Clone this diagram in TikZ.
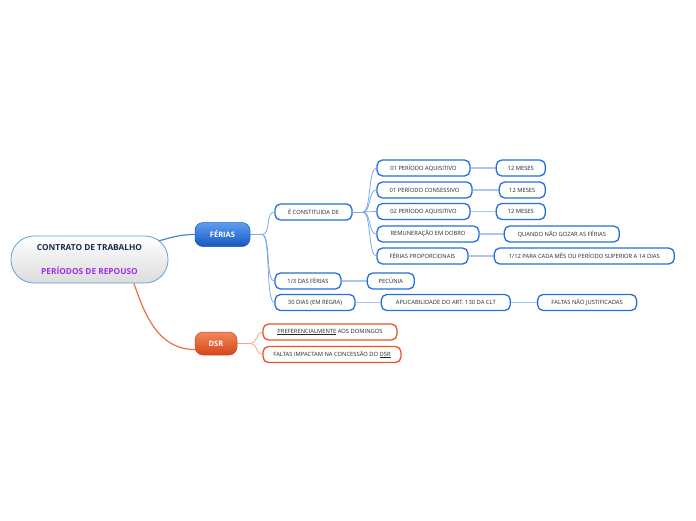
\documentclass[tikz,border=0pt]{standalone}
\usepackage{fontspec}
\setmainfont{Open Sans}
\usepackage{tikz}
\usetikzlibrary{positioning,backgrounds}
\definecolor{cBlue}{HTML}{2470D8}
\definecolor{cBlueTop}{HTML}{5E9EF0}
\definecolor{cBlueBot}{HTML}{1656BF}
\definecolor{cOrange}{HTML}{E8532B}
\definecolor{cOrangeTop}{HTML}{F3865A}
\definecolor{cOrangeBot}{HTML}{D5461C}
\definecolor{cTwig}{HTML}{7AA9EA}
\definecolor{cLink}{HTML}{A9C8F0}
\definecolor{cTwigO}{HTML}{F5A488}
\definecolor{cRootLine}{HTML}{5BA3E2}
\definecolor{cNavy}{HTML}{1C2B4F}
\definecolor{cPurple}{HTML}{A32CF2}
\definecolor{cText}{HTML}{262626}
\tikzset{
  root/.style={rounded corners=23pt, draw=cRootLine, line width=0.8pt, top color=white, bottom color=black!14,
               text=cNavy, align=center, font=\fontsize{8.3}{10}\selectfont\bfseries,
               minimum width=157pt, minimum height=47pt},
  hub/.style={rounded corners=8pt, top color=#1Top, bottom color=#1Bot, draw=#1Bot, line width=0.5pt,
              text=white, font=\fontsize{7.5}{9}\selectfont\bfseries, minimum height=24pt},
  leaf/.style={rounded corners=5.5pt, draw=#1, line width=1.3pt, fill=white, text=cText,
               font=\fontsize{5.8}{6.5}\selectfont, minimum height=16pt, inner xsep=2pt},
  limb/.style={draw=#1, line width=1.2pt},
  twig/.style={draw=#1, line width=0.8pt},
  link/.style={draw=cLink, line width=1.6pt},
}

\begin{document}
\begin{tikzpicture}[x=1pt, y=-1pt]
  \useasboundingbox (0,0) rectangle (696,520);
  % centre and the two main topics
  \node[root] (c) at (89.5,259.5) {CONTRATO DE TRABALHO\\[14pt]\textcolor{cPurple}{PERÍODOS DE REPOUSO}};
  \node[hub=cBlue, minimum width=55pt] (ferias) at (222.5,234.5) {FÉRIAS};
  \node[hub=cOrange, minimum width=42pt, minimum height=23pt] (dsr) at (216,343.5) {DSR};
  % ferias --- second level
  \node[leaf=cBlue, minimum width=77pt] (const) at (313.5,212) {É CONSTITUIDA DE};
  \node[leaf=cBlue, minimum width=66pt] (terco) at (308,281) {1/3 DAS FÉRIAS};
  \node[leaf=cBlue, minimum width=80pt] (trinta) at (315,302.5) {30 DIAS (EM REGRA)};
  % what the vacation is made of
  \node[leaf=cBlue, minimum width=93pt] (paq1) at (423.5,168) {01 PERÍODO AQUISITIVO};
  \node[leaf=cBlue, minimum width=95pt] (pcon) at (424.5,190) {01 PERÍODO CONSESSIVO};
  \node[leaf=cBlue, minimum width=93pt] (paq2) at (423.5,211.5) {02 PERÍODO AQUISITIVO};
  \node[leaf=cBlue, minimum width=102pt] (remu) at (428,234) {REMUNERAÇÃO EM DOBRO};
  \node[leaf=cBlue, minimum width=91pt] (fprop) at (422.5,256) {FÉRIAS PROPORCIONAIS};
  \node[leaf=cBlue, minimum width=49pt, right=25pt of paq1] (mes1) {12 MESES};
  \node[leaf=cBlue, minimum width=46pt, right=26pt of pcon] (mes2) {12 MESES};
  \node[leaf=cBlue, minimum width=49pt, right=25pt of paq2] (mes3) {12 MESES};
  \node[leaf=cBlue, minimum width=115pt, right=24pt of remu] (quando) {QUANDO NÃO GOZAR AS FÉRIAS};
  \node[leaf=cBlue, minimum width=180pt, right=25pt of fprop] (doze) {1/12 PARA CADA MÊS OU PERÍODO SUPERIOR A 14 DIAS};
  \node[leaf=cBlue, minimum width=47pt, right=25pt of terco] (pecunia) {PECÚNIA};
  \node[leaf=cBlue, minimum width=129pt, right=25pt of trinta] (aplic) {APLICABILIDADE DO ART. 130 DA CLT};
  \node[leaf=cBlue, minimum width=99pt, right=26pt of aplic] (faltas) {FALTAS NÃO JUSTIFICADAS};
  % dsr
  \node[leaf=cOrange, minimum width=134pt] (pref) at (330,332) {\underline{PREFERENCIALMENTE} AOS DOMINGOS};
  \node[leaf=cOrange, minimum width=138pt] (fimp) at (332,354.5) {FALTAS IMPACTAM NA CONCESSÃO DO \underline{DSR}};
  % junctions
  \coordinate (fj) at (262,234.5);
  \coordinate (cj) at (363,212);
  \coordinate (dj) at (251,343.5);
  \begin{scope}[on background layer]
    \draw[limb=cBlue!85!white] ([shift={(-12,-18)}]c.east) to[out=15,in=180] (ferias.west);
    \draw[limb=cOrange!85!white] ([shift={(43.5,-3)}]c.south) to[out=-72,in=180] ([yshift=-6pt]dsr.west);
    \draw[twig=cTwig] (ferias.east) -- (fj);
    \draw[twig=cTwig] (fj) .. controls +(9,0) and +(-9,0) .. (const.west);
    \draw[twig=cTwig] (fj) .. controls +(9,0) and +(-9,0) .. (terco.west);
    \draw[twig=cTwig] (fj) .. controls +(9,0) and +(-9,0) .. (trinta.west);
    \draw[twig=cTwig] (const.east) -- (cj);
    \draw[twig=cTwig] (cj) .. controls +(8,0) and +(-8,0) .. (paq1.west);
    \draw[twig=cTwig] (cj) .. controls +(8,0) and +(-8,0) .. (pcon.west);
    \draw[twig=cTwig] (cj) -- (paq2.west);
    \draw[twig=cTwig] (cj) .. controls +(8,0) and +(-8,0) .. (remu.west);
    \draw[twig=cTwig] (cj) .. controls +(8,0) and +(-8,0) .. (fprop.west);
    \draw[twig=cTwigO] (dsr.east) -- (dj);
    \draw[twig=cTwigO] (dj) .. controls +(6,0) and +(-6,0) .. (pref.west);
    \draw[twig=cTwigO] (dj) .. controls +(6,0) and +(-6,0) .. (fimp.west);
    \draw[link](paq1)--(mes1);\draw[link](pcon)--(mes2);\draw[link](paq2)--(mes3);
    \draw[link](remu)--(quando);\draw[link](fprop)--(doze);\draw[link](terco)--(pecunia);
    \draw[link](trinta)--(aplic);\draw[link](aplic)--(faltas);
  \end{scope}
\end{tikzpicture}
\end{document}
